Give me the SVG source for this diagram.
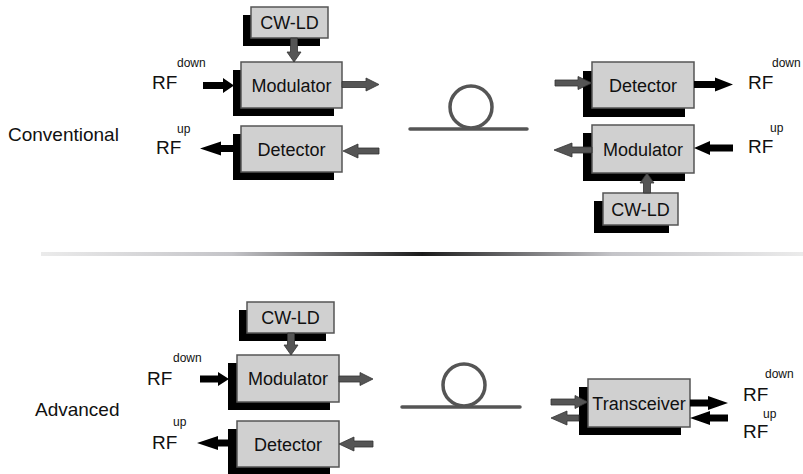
<svg xmlns="http://www.w3.org/2000/svg" width="803" height="474" viewBox="0 0 803 474">
<defs>
<linearGradient id="sep" x1="0" y1="0" x2="1" y2="0">
<stop offset="0" stop-color="#ebebeb"/>
<stop offset="0.25" stop-color="#c4c4c8"/>
<stop offset="0.5" stop-color="#1a1a1a"/>
<stop offset="0.75" stop-color="#c4c4c8"/>
<stop offset="1" stop-color="#ebebeb"/>
</linearGradient>
</defs>
<style>
text{font-family:"Liberation Sans",Arial,sans-serif;fill:#111}
.box{fill:#d0d0d0;stroke:#555;stroke-width:1.5}
.sh{fill:#000}
.lbl{font-size:18px;text-anchor:middle}
.rf{font-size:19px}
.sup{font-size:12px}
.side{font-size:19px}
.ga{fill:#555;stroke:#333;stroke-width:0.8}
.ba{fill:#000}
.fiber{fill:none;stroke:#555;stroke-width:3.5;stroke-linecap:round}
</style>
<rect width="803" height="474" fill="#fff"/>

<text class="side" x="8" y="141">Conventional</text>
<text class="side" x="35" y="416">Advanced</text>

<rect x="41" y="252" width="762" height="4" fill="url(#sep)"/>

<g id="fiber-top">
<line class="fiber" x1="410" y1="129" x2="527" y2="129"/>
<circle class="fiber" cx="471" cy="107" r="21"/>
</g>
<g id="fiber-bottom">
<line class="fiber" x1="402" y1="407" x2="520" y2="407"/>
<circle class="fiber" cx="464" cy="385" r="21"/>
</g>

<g id="cwld-tl">
<rect class="sh" x="243" y="15" width="77" height="31"/>
<rect class="box" x="251" y="7" width="77" height="31"/>
<text class="lbl" x="289.5" y="29">CW-LD</text>
</g>
<g id="mod-tl">
<rect class="sh" x="233" y="70" width="101" height="46"/>
<rect class="box" x="241" y="62" width="101" height="46"/>
<text class="lbl" x="291.5" y="91.5">Modulator</text>
</g>
<g id="det-tl">
<rect class="sh" x="233" y="134" width="101" height="46"/>
<rect class="box" x="241" y="126" width="101" height="46"/>
<text class="lbl" x="291.5" y="155.5">Detector</text>
</g>
<g id="rfdown-tl"><text class="rf" x="152" y="89">RF</text><text class="sup" x="177" y="67">down</text></g>
<g id="rfup-tl"><text class="rf" x="156" y="154">RF</text><text class="sup" x="177" y="133">up</text></g>

<g id="det-tr">
<rect class="sh" x="583" y="71" width="102" height="46"/>
<rect class="box" x="592" y="62" width="102" height="46"/>
<text class="lbl" x="643" y="91.5">Detector</text>
</g>
<g id="mod-tr">
<rect class="sh" x="583" y="133" width="102" height="48"/>
<rect class="box" x="592" y="125" width="102" height="48"/>
<text class="lbl" x="643" y="155.5">Modulator</text>
</g>
<g id="cwld-tr">
<rect class="sh" x="594" y="201" width="75" height="32"/>
<rect class="box" x="603" y="193" width="75" height="32"/>
<text class="lbl" x="640.5" y="215.5">CW-LD</text>
</g>
<g id="rfdown-tr"><text class="rf" x="748" y="89">RF</text><text class="sup" x="772" y="67">down</text></g>
<g id="rfup-tr"><text class="rf" x="748" y="153">RF</text><text class="sup" x="770" y="132">up</text></g>

<g id="cwld-b">
<rect class="sh" x="239" y="310" width="87" height="31"/>
<rect class="box" x="247" y="302" width="87" height="31"/>
<text class="lbl" x="290.5" y="324">CW-LD</text>
</g>
<g id="mod-b">
<rect class="sh" x="228" y="363" width="102" height="47"/>
<rect class="box" x="237" y="355" width="102" height="47"/>
<text class="lbl" x="288" y="385">Modulator</text>
</g>
<g id="det-b">
<rect class="sh" x="228" y="429" width="102" height="46"/>
<rect class="box" x="237" y="421" width="102" height="46"/>
<text class="lbl" x="288" y="450.5">Detector</text>
</g>
<g id="rfdown-b"><text class="rf" x="147" y="385">RF</text><text class="sup" x="173" y="362">down</text></g>
<g id="rfup-b"><text class="rf" x="152" y="449">RF</text><text class="sup" x="173" y="426">up</text></g>

<g id="transceiver">
<rect class="sh" x="579" y="387" width="102" height="48"/>
<rect class="box" x="588" y="379" width="102" height="48"/>
<text class="lbl" x="639" y="409.5">Transceiver</text>
</g>
<g id="rfdown-br"><text class="rf" x="743" y="401">RF</text><text class="sup" x="765" y="378">down</text></g>
<g id="rfup-br"><text class="rf" x="743" y="438">RF</text><text class="sup" x="763" y="418">up</text></g>

<g id="connectors">
<polygon class="ga" points="290.5,38 297.5,38 297.5,52 301,52 294,62 287,52 290.5,52"/>
<polygon class="ba" points="203,82 223,82 223,78 234,85.5 223,93 223,89 203,89"/>
<polygon class="ga" points="342,81.5 366,81.5 366,78 379,84.5 366,91 366,87.5 342,87.5"/>
<polygon class="ba" points="233,145 221,145 221,141.5 200,148.5 221,155.5 221,152 233,152"/>
<polygon class="ga" points="379,148 358,148 358,144 343,151 358,158 358,154 379,154"/>

<polygon class="ga" points="555,80 578,80 578,76.5 592,83 578,89.5 578,86 555,86"/>
<polygon class="ba" points="694,81 715,81 715,77.5 733,84.5 715,91.5 715,88 694,88"/>
<polygon class="ga" points="592,147 572,147 572,143 554,150 572,157 572,153 592,153"/>
<polygon class="ba" points="733,144.5 710,144.5 710,141 694,148 710,155 710,151.5 733,151.5"/>
<polygon class="ga" points="643.5,193 650.5,193 650.5,183 654,183 647,173 640,183 643.5,183"/>

<polygon class="ga" points="287.5,333 294.5,333 294.5,345 298,345 291,355 284,345 287.5,345"/>
<polygon class="ba" points="200,375.5 218,375.5 218,372 229,379 218,386 218,382.5 200,382.5"/>
<polygon class="ga" points="339,376 360,376 360,372.5 373,379 360,385.5 360,382 339,382"/>
<polygon class="ba" points="228,439.5 218,439.5 218,436 197,443 218,450 218,446.5 228,446.5"/>
<polygon class="ga" points="373,441 354,441 354,437 339,444 354,451 354,447 373,447"/>

<polygon class="ga" points="551,399 575,399 575,395.5 588,402 575,408.5 575,405 551,405"/>
<polygon class="ga" points="579,415 567,415 567,411 551,418 567,425 567,421 579,421"/>
<polygon class="ba" points="690,399.5 708,399.5 708,396 728,403 708,410 708,406.5 690,406.5"/>
<polygon class="ba" points="728,414.5 710,414.5 710,411 690,418 710,425 710,421.5 728,421.5"/>
</g>
</svg>
